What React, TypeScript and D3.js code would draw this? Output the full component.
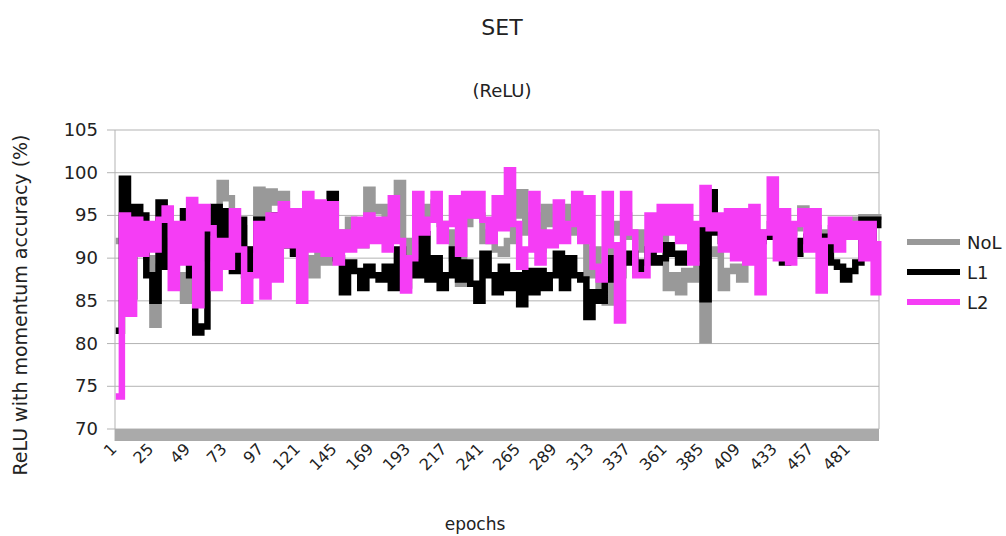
import React from "react";
import * as d3 from "d3";

// epochs sampled every 4 epochs (plus the final epoch)
const epochs: number[] = [...d3.range(1, 498, 4), 500];

const noL: number[] = [
  92.0, 94.5, 93.0, 95.0, 93.0, 90.0, 82.2, 89.0, 94.0, 91.0, 88.0, 85.0, 91.0, 93.0, 90.0, 92.0, 95.5, 98.8, 97.0, 92.0, 93.5, 90.0,
  91.0, 98.0, 93.0, 97.8, 96.5, 97.5, 93.0, 91.0, 93.0, 90.0, 88.0, 93.0, 89.5, 91.0, 92.5, 93.0, 94.5, 92.5, 91.5, 98.0, 95.5, 96.0,
  95.0, 93.0, 98.8, 86.8, 92.0, 94.0, 96.0, 95.0, 96.5, 94.0, 93.0, 90.0, 87.0, 94.0, 96.0, 95.0, 92.0, 93.0, 91.0, 90.5, 92.0,
  95.0, 97.7, 93.0, 95.0, 91.0, 96.0, 94.0, 95.0, 96.0, 93.0, 95.0, 92.5, 88.0, 91.0, 86.0, 84.8, 94.0, 93.0, 95.0, 92.5, 93.0,
  91.0, 93.0, 92.0, 93.5, 86.5, 88.0, 86.0, 88.5, 87.5, 89.0, 80.4, 91.0, 90.5, 86.5, 88.5, 89.0, 87.5, 91.0, 93.0, 92.0, 93.0, 94.0,
  93.0, 93.5, 93.0, 93.5, 95.8, 95.5, 93.5, 93.0, 93.0, 93.5, 93.0, 93.0, 93.0, 94.5, 94.8, 94.8, 94.8,
  94.5,
];

const l1: number[] = [
  81.5, 99.3, 85.5, 96.0, 95.0, 88.0, 85.0, 96.5, 89.0, 92.0, 90.0, 95.5, 88.0, 81.3, 82.0, 93.0, 96.0, 91.0, 95.5, 88.5, 94.5, 88.0,
  91.0, 94.5, 92.0, 91.0, 95.0, 91.5, 93.0, 90.5, 92.0, 93.0, 91.5, 92.0, 95.0, 97.5, 90.0, 86.0, 89.5, 88.5, 86.5, 89.0, 88.0, 87.5,
  89.0, 86.5, 91.0, 88.5, 89.5, 88.0, 92.8, 87.5, 90.0, 86.5, 88.0, 91.0, 87.5, 89.5, 87.0, 85.0, 90.5, 88.0, 86.0, 89.0, 86.5,
  88.0, 84.6, 88.5, 86.0, 88.5, 86.5, 88.0, 90.5, 86.5, 90.0, 88.0, 87.5, 83.1, 86.0, 85.0, 87.5, 90.0, 88.0, 89.5, 90.5, 88.5,
  89.5, 91.0, 89.5, 90.0, 91.5, 90.5, 89.5, 90.5, 90.0, 93.5, 85.2, 97.7, 93.0, 92.0, 93.0, 92.5, 93.0, 92.0, 93.0, 92.0, 92.5, 93.0,
  94.0, 89.5, 91.5, 90.5, 92.0, 92.5, 92.0, 92.5, 91.5, 89.5, 89.0, 87.5, 88.5, 89.5, 94.5, 91.0, 94.5,
  93.5,
];

const l2: number[] = [
  73.8, 95.0, 83.5, 94.5, 90.5, 94.0, 91.0, 94.5, 95.8, 86.5, 94.0, 89.5, 96.8, 84.5, 96.0, 93.5, 86.5, 92.0, 89.0, 95.5, 91.0, 85.0,
  88.0, 94.0, 85.5, 95.0, 87.5, 96.3, 91.5, 95.5, 85.0, 97.5, 91.0, 96.5, 90.5, 96.3, 89.5, 93.0, 91.0, 94.5, 91.5, 95.0, 92.0, 94.5,
  91.0, 97.0, 92.0, 86.2, 90.0, 97.5, 93.0, 94.5, 97.5, 92.0, 94.0, 97.0, 90.5, 97.5, 95.0, 97.5, 94.5, 92.0, 97.0, 93.5, 100.3,
  94.0, 89.0, 91.0, 97.5, 89.5, 93.0, 91.5, 96.5, 92.0, 94.0, 97.5, 92.0, 97.0, 89.0, 87.5, 97.5, 91.5, 82.7, 97.5, 93.0, 88.0,
  88.0, 95.0, 91.0, 96.0, 93.0, 96.0, 92.0, 96.0, 89.5, 94.0, 98.2, 93.5, 95.0, 91.0, 95.5, 90.0, 95.5, 89.5, 96.0, 86.0, 93.0, 99.2,
  90.0, 95.5, 89.5, 94.0, 95.5, 91.0, 95.5, 86.2, 92.0, 94.5, 91.0, 94.5, 92.5, 94.0, 90.0, 94.0, 86.0,
  92.0,
];

const seriesNames = ["NoL", "L1", "L2"];
const seriesColors = ["#999999", "#000000", "#f53df5"];
const yTicks = [70, 75, 80, 85, 90, 95, 100, 105];
const xTickLabels = d3.range(1, 482, 24);

const W = 1006;
const H = 536;
const FONT = "DejaVu Sans, sans-serif";

export default function App() {
  const left = 115;
  const right = 879;
  const top = 130;
  const bottom = 429;
  const x = d3.scaleLinear().domain([0.5, 500.5]).range([left, right]);
  const y = d3.scaleLinear().domain([70, 105]).range([bottom, top]);
  const allSeries = [noL, l1, l2];
  const line = (vals: number[]) =>
    d3
      .line<number>()
      .x((_, i) => x(epochs[i]))
      .y((d) => y(d))
      .curve(d3.curveStepAfter)(vals) || "";

  return (
    <svg
      width={W}
      height={H}
      style={{ position: "absolute", left: 0, top: 0, background: "#fff" }}
      fontFamily={FONT}
    >
      <rect x={0} y={0} width={W} height={H} fill="#fff" />
      <text x={502} y={35} textAnchor="middle" fontSize={22} fill="#222">SET</text>
      <text x={502} y={97} textAnchor="middle" fontSize={18} fill="#222">(ReLU)</text>

      {/* gridlines */}
      {yTicks.map((t) => (
        <g key={t}>
          <line x1={107} x2={right} y1={y(t)} y2={y(t)} stroke="#b3b3b3" strokeWidth={1} />
          <text x={98} y={y(t) + 6} textAnchor="end" fontSize={18} fill="#222">{t}</text>
        </g>
      ))}
      <line x1={left} x2={left} y1={top} y2={bottom + 12} stroke="#b3b3b3" />
      <line x1={right} x2={right} y1={top} y2={bottom} stroke="#b3b3b3" />
      {/* floor */}
      <rect x={left} y={bottom} width={right - left} height={12} fill="#aaaaaa" />

      {/* series */}
      {allSeries.map((vals, i) => (
        <path
          key={seriesNames[i]}
          d={line(vals)}
          fill="none"
          stroke={seriesColors[i]}
          strokeWidth={6.5}
          strokeLinejoin="miter"
        />
      ))}

      {/* x tick labels */}
      {xTickLabels.map((t) => (
        <text
          key={t}
          transform={`translate(${x(t) + 2},${450}) rotate(-45)`}
          textAnchor="end"
          fontSize={16}
          fill="#222"
        >
          {t}
        </text>
      ))}

      <text x={475} y={530} textAnchor="middle" fontSize={17} fill="#222">epochs</text>
      <text
        transform={`translate(27,305) rotate(-90)`}
        textAnchor="middle"
        fontSize={19}
        fill="#222"
      >
        ReLU with momentum accuracy (%)
      </text>

      {/* legend */}
      {seriesNames.map((n, i) => (
        <g key={n} transform={`translate(907,${242 + i * 30})`}>
          <line x1={0} x2={53} y1={0} y2={0} stroke={seriesColors[i]} strokeWidth={6} />
          <text x={60} y={7} fontSize={18} fill="#222">{n}</text>
        </g>
      ))}
    </svg>
  );
}
